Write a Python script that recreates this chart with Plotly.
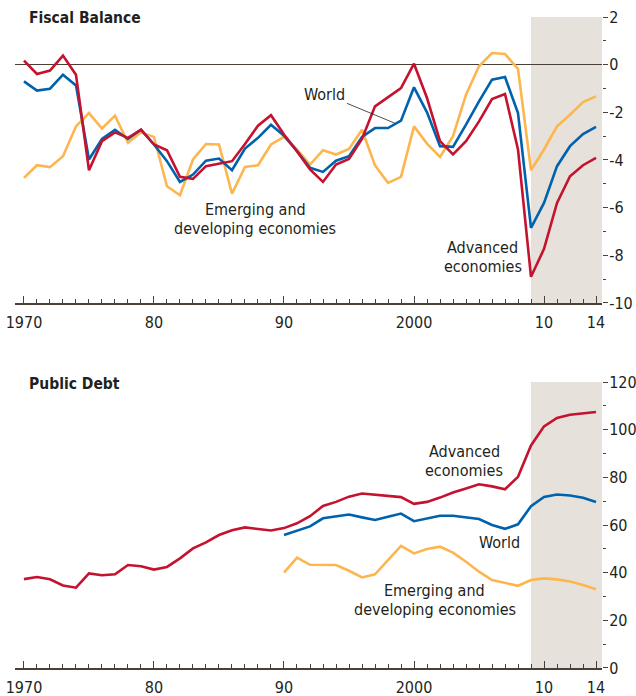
import plotly.graph_objects as go

# --- data ---
years = list(range(1970, 2015))
debt_years = list(range(1990, 2015))

adv_balance = [0.17, -0.39, -0.25, 0.38, -0.42, -4.43, -3.21, -2.84, -3.07, -2.73,
               -3.35, -3.59, -4.71, -4.79, -4.26, -4.15, -4.05, -3.33, -2.56, -2.12,
               -2.93, -3.63, -4.40, -4.92, -4.19, -3.96, -3.12, -1.75, -1.37, -0.98,
               0.04, -1.40, -3.21, -3.77, -3.21, -2.38, -1.44, -1.23, -3.56, -8.90,
               -7.73, -5.80, -4.68, -4.22, -3.91]
world_balance = [-0.70, -1.09, -1.01, -0.42, -0.87, -3.98, -3.12, -2.73, -3.12, -2.73,
                 -3.35, -4.05, -4.92, -4.61, -4.03, -3.94, -4.43, -3.52, -3.07, -2.52,
                 -2.98, -3.63, -4.33, -4.50, -4.03, -3.84, -3.03, -2.66, -2.66, -2.35,
                 -0.95, -2.00, -3.42, -3.45, -2.52, -1.54, -0.63, -0.52, -2.03, -6.85,
                 -5.80, -4.26, -3.42, -2.91, -2.61]
emde_balance = [-4.75, -4.22, -4.30, -3.84, -2.59, -2.03, -2.68, -2.14, -3.28, -2.84,
                -3.03, -5.10, -5.48, -3.98, -3.33, -3.35, -5.41, -4.29, -4.22, -3.35,
                -3.03, -3.56, -4.19, -3.59, -3.77, -3.54, -2.73, -4.23, -4.96, -4.71,
                -2.59, -3.31, -3.87, -3.00, -1.26, -0.07, 0.49, 0.45, -0.18, -4.43,
                -3.56, -2.59, -2.10, -1.57, -1.33]

adv_debt = [37.3, 38.2, 37.2, 34.6, 33.7, 39.7, 38.9, 39.3, 43.2, 42.7,
            41.3, 42.4, 46.0, 50.2, 52.7, 55.8, 57.8, 59.0, 58.3, 57.7,
            58.7, 60.7, 63.7, 68.0, 69.7, 71.9, 73.2, 72.6, 72.2, 71.7,
            68.9, 69.7, 71.5, 73.6, 75.3, 77.1, 76.2, 75.0, 80.2, 93.4,
            101.4, 104.9, 106.3, 107.0, 107.4]
world_debt = [55.8, 57.6, 59.4, 62.8, 63.7, 64.4, 63.2, 62.1, 63.5, 64.8,
              61.6, 62.6, 63.9, 63.9, 63.3, 62.5, 60.0, 58.4, 60.3, 67.9,
              71.8, 72.8, 72.4, 71.4, 69.7]
emde_debt = [40.0, 46.3, 43.3, 43.1, 43.2, 40.8, 38.0, 39.3, 45.3, 51.2,
             48.1, 49.9, 50.9, 48.4, 44.6, 40.4, 36.9, 35.8, 34.5, 36.9,
             37.6, 37.2, 36.3, 34.8, 33.0]

x_tickvals = [1970, 1980, 1990, 2000, 2010, 2014]
x_ticktext = ["1970", "80", "90", "2000", "10", "14"]
balance_ticks = [-10, -8, -6, -4, -2, 0, 2]
debt_ticks = [0, 20, 40, 60, 80, 100, 120]
projection_start = 2009

FONT = "DejaVu Sans Condensed, Liberation Sans Narrow, sans-serif"
INK = "#231f20"
AXIS = "#4a4038"
RED = "#c4122f"
BLUE = "#0062ad"
GOLD = "#fdb64e"
SHADE = "#e6e2db"
X_RANGE = [1969.31, 2014.46]
TXT = 16

fig = go.Figure()

panels = [
    ("x", "y", [(years, emde_balance, GOLD), (years, world_balance, BLUE), (years, adv_balance, RED)]),
    ("x2", "y2", [(debt_years, emde_debt, GOLD), (debt_years, world_debt, BLUE), (years, adv_debt, RED)]),
]
for xa, ya, series in panels:
    for xv, vals, color in series:
        fig.add_trace(go.Scatter(x=xv, y=vals, mode="lines", xaxis=xa, yaxis=ya,
                                 line=dict(color=color, width=2.6),
                                 showlegend=False, hoverinfo="skip"))

xaxis_common = dict(
    range=X_RANGE, tickmode="array", tickvals=x_tickvals, ticktext=x_ticktext,
    ticks="inside", ticklen=7, tickwidth=1.2, tickcolor=AXIS,
    minor=dict(dtick=1, tick0=1970, ticks="inside", ticklen=4, tickwidth=1.2, tickcolor=AXIS),
    showline=True, linecolor=AXIS, linewidth=1.5, showgrid=False, zeroline=False,
    tickfont=dict(family=FONT, size=TXT, color=INK), ticklabelstandoff=4,
    ticklabeloverflow="allow", automargin=False,
)


def right_axis(rng, vals, minor_step, domain, anchor, zero):
    return dict(
        domain=domain, anchor=anchor, side="right", range=rng,
        tickmode="array", tickvals=vals, ticktext=[str(v) for v in vals],
        ticks="outside", ticklen=5, tickwidth=1.2, tickcolor=AXIS,
        minor=dict(dtick=minor_step, tick0=0, ticks="outside", ticklen=3,
                   tickwidth=1.2, tickcolor=AXIS),
        showgrid=False, showline=False, zeroline=zero, zerolinecolor=AXIS,
        zerolinewidth=1, tickfont=dict(family=FONT, size=TXT, color=INK),
        ticklabelstandoff=-2, ticklabeloverflow="allow", automargin=False,
    )


def left_ticks(over, rng, vals, minor_step, anchor):
    return dict(
        overlaying=over, anchor=anchor, side="left", range=rng,
        tickmode="array", tickvals=vals, showticklabels=False,
        ticks="inside", ticklen=6, tickwidth=1.2, tickcolor=AXIS,
        minor=dict(dtick=minor_step, tick0=0, ticks="inside", ticklen=4,
                   tickwidth=1.2, tickcolor=AXIS),
        showgrid=False, showline=False, zeroline=False, automargin=False,
    )


top_dom = [0.5607, 1.0]
bot_dom = [0.0, 0.4393]

fig.update_layout(
    width=636, height=696,
    margin=dict(l=15, r=34, t=17, b=28),
    paper_bgcolor="white", plot_bgcolor="white",
    font=dict(family=FONT, size=TXT, color=INK),
    xaxis=dict(anchor="y", domain=[0, 1], **xaxis_common),
    xaxis2=dict(anchor="y2", domain=[0, 1], **xaxis_common),
    yaxis=right_axis([-10, 2], balance_ticks, 1, top_dom, "x", True),
    yaxis2=right_axis([0, 120], debt_ticks, 10, bot_dom, "x2", False),
    yaxis3=left_ticks("y", [-10, 2], balance_ticks, 1, "x"),
    yaxis4=left_ticks("y2", [0, 120], debt_ticks, 10, "x2"),
)

# projection shading
fig.add_shape(type="rect", xref="x", yref="y", x0=projection_start, x1=X_RANGE[1],
              y0=-10, y1=2, fillcolor=SHADE, line_width=0, layer="below")
fig.add_shape(type="rect", xref="x2", yref="y2", x0=projection_start, x1=X_RANGE[1],
              y0=0, y1=120, fillcolor=SHADE, line_width=0, layer="below")

# panel titles
for text, yp in [("Fiscal Balance", 1.0), ("Public Debt", 0.4378)]:
    fig.add_annotation(text=f"<b>{text}</b>", xref="paper", yref="paper",
                       x=0.0204, y=yp, xanchor="left", yanchor="middle", yshift=-1,
                       showarrow=False, font=dict(family=FONT, size=15.5, color=INK))


def label(lines, x, y, xref, yref, step=19):
    n = len(lines)
    for i, line in enumerate(lines):
        fig.add_annotation(text=line, x=x, y=y, xref=xref, yref=yref,
                           yshift=((n - 1) / 2 - i) * step, showarrow=False,
                           font=dict(family=FONT, size=TXT, color=INK))


label(["Emerging and", "developing economies"], 1987.8, -6.48, "x", "y")
label(["Advanced", "economies"], 2005.3, -8.07, "x", "y")
label(["Advanced", "economies"], 2003.85, 86.7, "x2", "y2")
label(["World"], 2006.6, 52.6, "x2", "y2")
label(["Emerging and", "developing economies"], 2001.6, 28.6, "x2", "y2")

fig.add_annotation(text="World", x=1998.5, y=-2.45, xref="x", yref="y",
                   ax=1993.15, ay=-1.24, axref="x", ayref="y",
                   showarrow=True, arrowhead=0, arrowwidth=0.8, arrowcolor=INK,
                   standoff=0, font=dict(family=FONT, size=TXT, color=INK))

# drop the browser's default body margin so the 636x696 figure fills the window
fig.write_html("out.html", config={"displayModeBar": False},
               post_script="document.body.style.margin = '0px';")
